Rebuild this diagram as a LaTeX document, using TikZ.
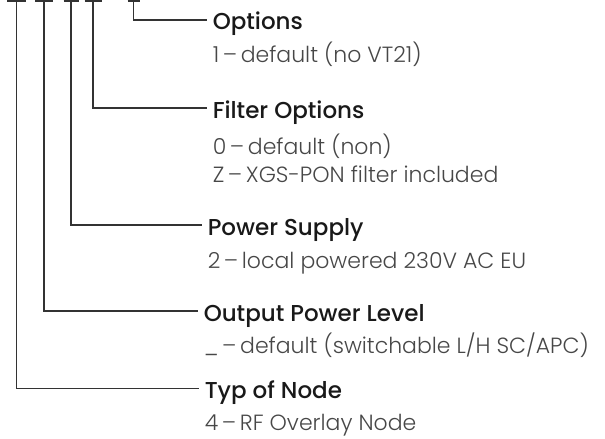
\documentclass[tikz,border=0pt]{standalone}
\usepackage{fontspec}
\newfontfamily\headfont{Poppins Medium}
\newfontfamily\descfont{Poppins Light}
\usetikzlibrary{positioning}

\begin{document}
\begin{tikzpicture}[%
    x=1pt,
    y=-1pt,
    line width=1.5pt,
    lead/.style={draw=black!80},
    head/.style={%
      anchor=base west,
      inner sep=0pt,
      text=black!90,
      font=\headfont\fontsize{23}{26}\selectfont
    },
    desc/.style={%
      anchor=base west,
      inner sep=0pt,
      align=left,
      text=black!72,
      font=\descfont\fontsize{22}{28}\selectfont
    }
  ]
    \useasboundingbox (0,0) rectangle (605,439);

    \coordinate (t1) at (16.5,0.75);
    \coordinate (t2) at (44,0.75);
    \coordinate (t3) at (71,0.75);
    \coordinate (t4) at (93,0.75);
    \coordinate (t5) at (133.5,0.75);

    \node[head] (opt) at (212,29.5) {Options};
    \node[desc] (opt-d) [below=33pt of opt.base west, anchor=base west] {1\,–\,default (no VT21)};
    \node[head] (filt) at (212,118) {Filter Options};
    \node[desc] (filt-d) [below=64pt of filt.base west, anchor=base west] {0\,–\,default (non)\\Z\,–\,XGS-PON filter included};
    \node[head] (pwr) at (207,235) {Power Supply};
    \node[desc] (pwr-d) [below=33pt of pwr.base west, anchor=base west] {2\,–\,local powered 230V AC EU};
    \node[head] (out) at (203,321) {Output Power Level};
    \node[desc] (out-d) [below=32pt of out.base west, anchor=base west] {\_\,–\,default (switchable L/H SC/APC)};
    \node[head] (typ) at (204,398.5) {Typ of Node};
    \node[desc] (typ-d) [below=32pt of typ.base west, anchor=base west] {4\,–\,RF Overlay Node};

    \foreach \t/\w in {t1/9.5,t2/9,t3/7.5,t4/8.5,t5/6}
      \draw[lead] ([xshift=-\w pt]\t) -- ([xshift=\w pt]\t);

    \draw[lead] (t5) |- ([xshift=-5pt,yshift=9.5pt]opt.base west);
    \draw[lead] (t4) |- ([xshift=-5pt,yshift=10pt]filt.base west);
    \draw[lead] (t3) |- ([xshift=-5pt,yshift=10pt]pwr.base west);
    \draw[lead] (t2) |- ([xshift=-5pt,yshift=10pt]out.base west);
    \draw[lead] (t1) |- ([xshift=-5pt,yshift=10pt]typ.base west);
\end{tikzpicture}
\end{document}
